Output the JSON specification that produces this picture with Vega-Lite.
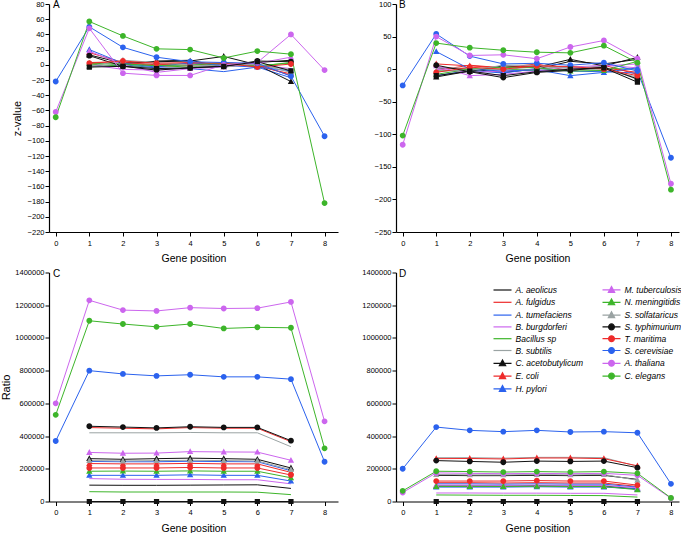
{
"$schema": "https://vega.github.io/schema/vega-lite/v6.json",
"padding": {"left": 0, "top": 0, "right": 0, "bottom": 0},
"datasets": {"d": [
{"s":"A. aeolicus","x":1,"A":-1,"B":2,"C":100000,"D":160000},
{"s":"A. aeolicus","x":2,"A":-1,"B":0,"C":99000,"D":158000},
{"s":"A. aeolicus","x":3,"A":5,"B":-5,"C":99000,"D":158000},
{"s":"A. aeolicus","x":4,"A":6,"B":0,"C":100000,"D":160000},
{"s":"A. aeolicus","x":5,"A":-3,"B":12,"C":101000,"D":158000},
{"s":"A. aeolicus","x":6,"A":3,"B":8,"C":102000,"D":160000},
{"s":"A. aeolicus","x":7,"A":6,"B":15,"C":80000,"D":135000},
{"s":"A. fulgidus","x":1,"A":3,"B":-2,"C":452000,"D":115000},
{"s":"A. fulgidus","x":2,"A":4,"B":6,"C":448000,"D":115000},
{"s":"A. fulgidus","x":3,"A":-2,"B":2,"C":444000,"D":113000},
{"s":"A. fulgidus","x":4,"A":-1,"B":8,"C":452000,"D":115000},
{"s":"A. fulgidus","x":5,"A":3,"B":-3,"C":448000,"D":113000},
{"s":"A. fulgidus","x":6,"A":0,"B":6,"C":448000,"D":113000},
{"s":"A. fulgidus","x":7,"A":-14,"B":-8,"C":366000,"D":92000},
{"s":"A. tumefaciens","x":1,"A":-2,"B":-10,"C":245000,"D":108000},
{"s":"A. tumefaciens","x":2,"A":0,"B":-2,"C":243000,"D":108000},
{"s":"A. tumefaciens","x":3,"A":-4,"B":-6,"C":243000,"D":106000},
{"s":"A. tumefaciens","x":4,"A":-5,"B":1,"C":246000,"D":108000},
{"s":"A. tumefaciens","x":5,"A":-9,"B":-3,"C":244000,"D":106000},
{"s":"A. tumefaciens","x":6,"A":-3,"B":-4,"C":243000,"D":106000},
{"s":"A. tumefaciens","x":7,"A":-17,"B":-6,"C":188000,"D":88000},
{"s":"B. burgdorferi","x":1,"A":0,"B":0,"C":140000,"D":52000},
{"s":"B. burgdorferi","x":2,"A":-6,"B":-5,"C":136000,"D":52000},
{"s":"B. burgdorferi","x":3,"A":-7,"B":-3,"C":135000,"D":51000},
{"s":"B. burgdorferi","x":4,"A":-4,"B":0,"C":135000,"D":51000},
{"s":"B. burgdorferi","x":5,"A":-1,"B":3,"C":133000,"D":50000},
{"s":"B. burgdorferi","x":6,"A":0,"B":6,"C":133000,"D":50000},
{"s":"B. burgdorferi","x":7,"A":-5,"B":2,"C":108000,"D":40000},
{"s":"Bacillus sp","x":1,"A":1,"B":-3,"C":60000,"D":40000},
{"s":"Bacillus sp","x":2,"A":-2,"B":-1,"C":58000,"D":39000},
{"s":"Bacillus sp","x":3,"A":-1,"B":0,"C":58000,"D":38000},
{"s":"Bacillus sp","x":4,"A":-3,"B":-2,"C":58000,"D":38000},
{"s":"Bacillus sp","x":5,"A":1,"B":-1,"C":58000,"D":37000},
{"s":"Bacillus sp","x":6,"A":-1,"B":1,"C":57000,"D":36000},
{"s":"Bacillus sp","x":7,"A":2,"B":0,"C":42000,"D":27000},
{"s":"B. subtilis","x":1,"A":-3,"B":3,"C":420000,"D":268000},
{"s":"B. subtilis","x":2,"A":2,"B":1,"C":420000,"D":268000},
{"s":"B. subtilis","x":3,"A":1,"B":-1,"C":420000,"D":265000},
{"s":"B. subtilis","x":4,"A":-2,"B":4,"C":422000,"D":270000},
{"s":"B. subtilis","x":5,"A":0,"B":1,"C":420000,"D":270000},
{"s":"B. subtilis","x":6,"A":-1,"B":-2,"C":420000,"D":268000},
{"s":"B. subtilis","x":7,"A":-6,"B":-12,"C":335000,"D":215000},
{"s":"C. acetobutylicum","x":1,"A":13,"B":-12,"C":262000,"D":95000},
{"s":"C. acetobutylicum","x":2,"A":2,"B":-3,"C":258000,"D":95000},
{"s":"C. acetobutylicum","x":3,"A":4,"B":5,"C":262000,"D":95000},
{"s":"C. acetobutylicum","x":4,"A":5,"B":3,"C":265000,"D":97000},
{"s":"C. acetobutylicum","x":5,"A":11,"B":15,"C":262000,"D":95000},
{"s":"C. acetobutylicum","x":6,"A":0,"B":5,"C":258000,"D":95000},
{"s":"C. acetobutylicum","x":7,"A":-22,"B":18,"C":205000,"D":76000},
{"s":"E. coli","x":1,"A":16,"B":8,"C":232000,"D":262000},
{"s":"E. coli","x":2,"A":3,"B":5,"C":230000,"D":263000},
{"s":"E. coli","x":3,"A":0,"B":2,"C":230000,"D":260000},
{"s":"E. coli","x":4,"A":2,"B":6,"C":233000,"D":266000},
{"s":"E. coli","x":5,"A":1,"B":3,"C":230000,"D":266000},
{"s":"E. coli","x":6,"A":-2,"B":2,"C":230000,"D":262000},
{"s":"E. coli","x":7,"A":-12,"B":-5,"C":178000,"D":218000},
{"s":"H. pylori","x":1,"A":20,"B":27,"C":160000,"D":88000},
{"s":"H. pylori","x":2,"A":2,"B":0,"C":160000,"D":88000},
{"s":"H. pylori","x":3,"A":-3,"B":-3,"C":160000,"D":88000},
{"s":"H. pylori","x":4,"A":3,"B":-1,"C":163000,"D":90000},
{"s":"H. pylori","x":5,"A":-1,"B":-10,"C":160000,"D":88000},
{"s":"H. pylori","x":6,"A":-3,"B":-5,"C":160000,"D":88000},
{"s":"H. pylori","x":7,"A":-8,"B":2,"C":125000,"D":78000},
{"s":"M. tuberculosis","x":1,"A":18,"B":5,"C":300000,"D":100000},
{"s":"M. tuberculosis","x":2,"A":0,"B":-10,"C":295000,"D":100000},
{"s":"M. tuberculosis","x":3,"A":-10,"B":-8,"C":296000,"D":98000},
{"s":"M. tuberculosis","x":4,"A":-5,"B":-3,"C":305000,"D":100000},
{"s":"M. tuberculosis","x":5,"A":-3,"B":0,"C":303000,"D":98000},
{"s":"M. tuberculosis","x":6,"A":2,"B":5,"C":302000,"D":98000},
{"s":"M. tuberculosis","x":7,"A":10,"B":8,"C":252000,"D":84000},
{"s":"N. meningitidis","x":1,"A":2,"B":-8,"C":185000,"D":92000},
{"s":"N. meningitidis","x":2,"A":1,"B":0,"C":186000,"D":92000},
{"s":"N. meningitidis","x":3,"A":-1,"B":3,"C":185000,"D":92000},
{"s":"N. meningitidis","x":4,"A":0,"B":2,"C":187000,"D":93000},
{"s":"N. meningitidis","x":5,"A":2,"B":-3,"C":185000,"D":92000},
{"s":"N. meningitidis","x":6,"A":-2,"B":-2,"C":185000,"D":92000},
{"s":"N. meningitidis","x":7,"A":3,"B":12,"C":145000,"D":72000},
{"s":"S. solfataricus","x":1,"A":-2,"B":-3,"C":250000,"D":165000},
{"s":"S. solfataricus","x":2,"A":6,"B":-2,"C":248000,"D":163000},
{"s":"S. solfataricus","x":3,"A":3,"B":6,"C":250000,"D":163000},
{"s":"S. solfataricus","x":4,"A":0,"B":6,"C":252000,"D":165000},
{"s":"S. solfataricus","x":5,"A":-3,"B":2,"C":250000,"D":163000},
{"s":"S. solfataricus","x":6,"A":1,"B":4,"C":248000,"D":165000},
{"s":"S. solfataricus","x":7,"A":-10,"B":-16,"C":195000,"D":130000},
{"s":"S. typhimurium","x":1,"A":12,"B":6,"C":460000,"D":250000},
{"s":"S. typhimurium","x":2,"A":-2,"B":-4,"C":455000,"D":245000},
{"s":"S. typhimurium","x":3,"A":-7,"B":-13,"C":450000,"D":240000},
{"s":"S. typhimurium","x":4,"A":-4,"B":-5,"C":457000,"D":247000},
{"s":"S. typhimurium","x":5,"A":-2,"B":-2,"C":453000,"D":245000},
{"s":"S. typhimurium","x":6,"A":5,"B":3,"C":453000,"D":247000},
{"s":"S. typhimurium","x":7,"A":4,"B":-15,"C":372000,"D":207000},
{"s":"T. maritima","x":1,"A":2,"B":-5,"C":205000,"D":125000},
{"s":"T. maritima","x":2,"A":5,"B":3,"C":205000,"D":125000},
{"s":"T. maritima","x":3,"A":2,"B":0,"C":205000,"D":125000},
{"s":"T. maritima","x":4,"A":3,"B":5,"C":208000,"D":128000},
{"s":"T. maritima","x":5,"A":2,"B":4,"C":205000,"D":125000},
{"s":"T. maritima","x":6,"A":-3,"B":0,"C":205000,"D":125000},
{"s":"T. maritima","x":7,"A":1,"B":-10,"C":162000,"D":100000},
{"s":"S. cerevisiae","x":0,"A":-22,"B":-25,"C":370000,"D":200000},
{"s":"S. cerevisiae","x":1,"A":50,"B":54,"C":800000,"D":455000},
{"s":"S. cerevisiae","x":2,"A":23,"B":20,"C":780000,"D":435000},
{"s":"S. cerevisiae","x":3,"A":10,"B":8,"C":768000,"D":427000},
{"s":"S. cerevisiae","x":4,"A":4,"B":9,"C":775000,"D":435000},
{"s":"S. cerevisiae","x":5,"A":3,"B":6,"C":762000,"D":425000},
{"s":"S. cerevisiae","x":6,"A":2,"B":10,"C":762000,"D":427000},
{"s":"S. cerevisiae","x":7,"A":-15,"B":-3,"C":748000,"D":420000},
{"s":"S. cerevisiae","x":8,"A":-94,"B":-136,"C":243000,"D":108000},
{"s":"A. thaliana","x":0,"A":-62,"B":-116,"C":600000,"D":55000},
{"s":"A. thaliana","x":1,"A":48,"B":50,"C":1230000,"D":175000},
{"s":"A. thaliana","x":2,"A":-11,"B":21,"C":1170000,"D":172000},
{"s":"A. thaliana","x":3,"A":-14,"B":22,"C":1165000,"D":170000},
{"s":"A. thaliana","x":4,"A":-14,"B":16,"C":1185000,"D":172000},
{"s":"A. thaliana","x":5,"A":0,"B":34,"C":1180000,"D":170000},
{"s":"A. thaliana","x":6,"A":3,"B":44,"C":1182000,"D":172000},
{"s":"A. thaliana","x":7,"A":40,"B":16,"C":1220000,"D":160000},
{"s":"A. thaliana","x":8,"A":-7,"B":-176,"C":490000,"D":20000},
{"s":"C. elegans","x":0,"A":-69,"B":-102,"C":530000,"D":65000},
{"s":"C. elegans","x":1,"A":57,"B":40,"C":1105000,"D":185000},
{"s":"C. elegans","x":2,"A":38,"B":33,"C":1085000,"D":183000},
{"s":"C. elegans","x":3,"A":21,"B":29,"C":1068000,"D":180000},
{"s":"C. elegans","x":4,"A":20,"B":26,"C":1085000,"D":183000},
{"s":"C. elegans","x":5,"A":9,"B":25,"C":1058000,"D":180000},
{"s":"C. elegans","x":6,"A":18,"B":36,"C":1065000,"D":183000},
{"s":"C. elegans","x":7,"A":14,"B":10,"C":1062000,"D":172000},
{"s":"C. elegans","x":8,"A":-182,"B":-185,"C":325000,"D":22000},
{"s":"other","x":1,"A":-3,"B":-10,"C":0,"D":0},
{"s":"other","x":2,"A":-2,"B":-3,"C":0,"D":0},
{"s":"other","x":3,"A":-5,"B":-10,"C":0,"D":0},
{"s":"other","x":4,"A":-4,"B":-4,"C":0,"D":0},
{"s":"other","x":5,"A":-2,"B":0,"C":0,"D":0},
{"s":"other","x":6,"A":4,"B":2,"C":0,"D":0},
{"s":"other","x":7,"A":-8,"B":-20,"C":0,"D":0}
]},
"data": {"name": "d"},
"columns": 2,
"spacing": {"row": 4.5, "column": 23},
"resolve": {"legend": {"color": "independent", "shape": "independent"}},
"concat": [
{
 "width": 289, "height": 228,
 "title": {"text": "A", "anchor": "start", "frame": "group", "baseline": "top", "offset": -10, "dx": 4},
 "layer": [
  {"mark": {"type": "line", "strokeWidth": 1},
   "encoding": {
    "x": {"field": "x", "type": "quantitative", "scale": {"domain": [-0.2, 8.4], "nice": false, "zero": false}, "axis": {"values": [0,1,2,3,4,5,6,7,8], "tickCount": 30, "format": "d", "labelOverlap": false, "title": "Gene position"}},
    "y": {"field": "A", "type": "quantitative", "scale": {"domain": [-220, 80], "nice": false, "zero": false}, "axis": {"values": [-220,-200,-180,-160,-140,-120,-100,-80,-60,-40,-20,0,20,40,60,80], "tickCount": 30, "format": "d", "labelOverlap": false, "title": "z-value"}},
    "color": {"field": "s", "type": "nominal", "legend": null, "scale": {"domain": ["A. aeolicus","A. fulgidus","A. tumefaciens","B. burgdorferi","Bacillus sp","B. subtilis","C. acetobutylicum","E. coli","H. pylori","M. tuberculosis","N. meningitidis","S. solfataricus","S. typhimurium","T. maritima","S. cerevisiae","A. thaliana","C. elegans","other"], "range": ["#111111","#ee2b2b","#2b62ee","#cc66ee","#3db52a","#9aa3a3","#111111","#ee2b2b","#2b62ee","#cc66ee","#3db52a","#9aa3a3","#111111","#ee2b2b","#2b62ee","#cc66ee","#3db52a","#111111"]}}
   }},
  {"transform": [{"filter": {"field": "s", "oneOf": ["C. acetobutylicum","E. coli","H. pylori","M. tuberculosis","N. meningitidis","S. solfataricus","S. typhimurium","T. maritima","S. cerevisiae","A. thaliana","C. elegans","other"]}}],
   "mark": {"type": "point", "filled": true, "size": 81, "opacity": 1, "strokeWidth": 0},
   "encoding": {
    "x": {"field": "x", "type": "quantitative"},
    "y": {"field": "A", "type": "quantitative"},
    "color": {"field": "s", "type": "nominal", "legend": null},
    "shape": {"field": "s", "type": "nominal", "legend": null, "scale": {"domain": ["A. aeolicus","A. fulgidus","A. tumefaciens","B. burgdorferi","Bacillus sp","B. subtilis","C. acetobutylicum","E. coli","H. pylori","M. tuberculosis","N. meningitidis","S. solfataricus","S. typhimurium","T. maritima","S. cerevisiae","A. thaliana","C. elegans","other"], "range": ["M-2,0H2","M-2,0H2","M-2,0H2","M-2,0H2","M-2,0H2","M-2,0H2","M-2,0H2M0,-0.75L0.7,0.55H-0.7Z","M-2,0H2M0,-0.75L0.7,0.55H-0.7Z","M-2,0H2M0,-0.75L0.7,0.55H-0.7Z","M-2,0H2M0,-0.75L0.7,0.55H-0.7Z","M-2,0H2M0,-0.75L0.7,0.55H-0.7Z","M-2,0H2M0,-0.75L0.7,0.55H-0.7Z","M-2,0H2M-0.65,0A0.65,0.65,0,1,0,0.65,0A0.65,0.65,0,1,0,-0.65,0Z","M-2,0H2M-0.65,0A0.65,0.65,0,1,0,0.65,0A0.65,0.65,0,1,0,-0.65,0Z","M-2,0H2M-0.65,0A0.65,0.65,0,1,0,0.65,0A0.65,0.65,0,1,0,-0.65,0Z","M-2,0H2M-0.65,0A0.65,0.65,0,1,0,0.65,0A0.65,0.65,0,1,0,-0.65,0Z","M-2,0H2M-0.65,0A0.65,0.65,0,1,0,0.65,0A0.65,0.65,0,1,0,-0.65,0Z","M-2,0H2M-0.58,-0.58H0.58V0.58H-0.58Z"]}}
   }}
 ]
},
{
 "width": 283, "height": 228,
 "title": {"text": "B", "anchor": "start", "frame": "group", "baseline": "top", "offset": -10, "dx": 3},
 "layer": [
  {"mark": {"type": "line", "strokeWidth": 1},
   "encoding": {
    "x": {"field": "x", "type": "quantitative", "scale": {"domain": [-0.2, 8.24], "nice": false, "zero": false}, "axis": {"values": [0,1,2,3,4,5,6,7,8], "tickCount": 30, "format": "d", "labelOverlap": false, "title": "Gene position"}},
    "y": {"field": "B", "type": "quantitative", "scale": {"domain": [-250, 100], "nice": false, "zero": false}, "axis": {"values": [-250,-200,-150,-100,-50,0,50,100], "tickCount": 30, "format": "d", "labelOverlap": false, "title": null}},
    "color": {"field": "s", "type": "nominal", "legend": null}
   }},
  {"transform": [{"filter": {"field": "s", "oneOf": ["C. acetobutylicum","E. coli","H. pylori","M. tuberculosis","N. meningitidis","S. solfataricus","S. typhimurium","T. maritima","S. cerevisiae","A. thaliana","C. elegans","other"]}}],
   "mark": {"type": "point", "filled": true, "size": 81, "opacity": 1, "strokeWidth": 0},
   "encoding": {
    "x": {"field": "x", "type": "quantitative"},
    "y": {"field": "B", "type": "quantitative"},
    "color": {"field": "s", "type": "nominal", "legend": null},
    "shape": {"field": "s", "type": "nominal", "legend": null}
   }}
 ]
},
{
 "width": 289, "height": 229,
 "title": {"text": "C", "anchor": "start", "frame": "group", "baseline": "top", "offset": -10, "dx": 4},
 "layer": [
  {"mark": {"type": "line", "strokeWidth": 1},
   "encoding": {
    "x": {"field": "x", "type": "quantitative", "scale": {"domain": [-0.2, 8.4], "nice": false, "zero": false}, "axis": {"values": [0,1,2,3,4,5,6,7,8], "tickCount": 30, "format": "d", "labelOverlap": false, "title": "Gene position"}},
    "y": {"field": "C", "type": "quantitative", "scale": {"domain": [0, 1400000], "nice": false}, "axis": {"values": [0,200000,400000,600000,800000,1000000,1200000,1400000], "tickCount": 30, "format": "d", "labelOverlap": false, "title": "Ratio", "titlePadding": 3}},
    "color": {"field": "s", "type": "nominal", "legend": null}
   }},
  {"transform": [{"filter": {"field": "s", "oneOf": ["C. acetobutylicum","E. coli","H. pylori","M. tuberculosis","N. meningitidis","S. solfataricus","S. typhimurium","T. maritima","S. cerevisiae","A. thaliana","C. elegans","other"]}}],
   "mark": {"type": "point", "filled": true, "size": 81, "opacity": 1, "strokeWidth": 0},
   "encoding": {
    "x": {"field": "x", "type": "quantitative"},
    "y": {"field": "C", "type": "quantitative"},
    "color": {"field": "s", "type": "nominal", "legend": null},
    "shape": {"field": "s", "type": "nominal", "legend": null}
   }}
 ]
},
{
 "width": 283, "height": 229,
 "title": {"text": "D", "anchor": "start", "frame": "group", "baseline": "top", "offset": -10, "dx": 3},
 "layer": [
  {"mark": {"type": "line", "strokeWidth": 1},
   "encoding": {
    "x": {"field": "x", "type": "quantitative", "scale": {"domain": [-0.2, 8.24], "nice": false, "zero": false}, "axis": {"values": [0,1,2,3,4,5,6,7,8], "tickCount": 30, "format": "d", "labelOverlap": false, "title": "Gene position"}},
    "y": {"field": "D", "type": "quantitative", "scale": {"domain": [0, 1400000], "nice": false}, "axis": {"values": [0,200000,400000,600000,800000,1000000,1200000,1400000], "tickCount": 30, "format": "d", "labelOverlap": false, "title": null}},
    "color": {"field": "s", "type": "nominal", "legend": {"title": null, "orient": "none", "legendX": 101, "legendY": 11.5, "direction": "vertical", "columns": 2, "columnPadding": 16, "rowPadding": 0.8, "labelLimit": 200, "values": ["A. aeolicus","A. fulgidus","A. tumefaciens","B. burgdorferi","Bacillus sp","B. subtilis","C. acetobutylicum","E. coli","H. pylori","M. tuberculosis","N. meningitidis","S. solfataricus","S. typhimurium","T. maritima","S. cerevisiae","A. thaliana","C. elegans"], "symbolSize": 81, "labelFontSize": 8.5, "labelFontStyle": "italic", "labelOffset": 7.5, "labelColor": "#000", "encode": {"symbols": {"update": {"stroke": {"scale": "color", "field": "value"}, "fill": {"scale": "color", "field": "value"}, "shape": {"scale": "shape", "field": "value"}, "size": {"value": 81}, "strokeWidth": {"value": 1.2}, "opacity": {"value": 1}}}}}}
   }},
  {"transform": [{"filter": {"field": "s", "oneOf": ["C. acetobutylicum","E. coli","H. pylori","M. tuberculosis","N. meningitidis","S. solfataricus","S. typhimurium","T. maritima","S. cerevisiae","A. thaliana","C. elegans","other"]}}],
   "mark": {"type": "point", "filled": true, "size": 81, "opacity": 1, "strokeWidth": 0},
   "encoding": {
    "x": {"field": "x", "type": "quantitative"},
    "y": {"field": "D", "type": "quantitative"},
    "color": {"field": "s", "type": "nominal", "legend": null},
    "shape": {"field": "s", "type": "nominal", "legend": null}
   }}
 ]
}
],
"config": {
 "font": "Liberation Sans",
 "view": {"stroke": null},
 "axis": {"domainColor": "#000", "domainWidth": 1.2, "tickColor": "#000", "tickSize": 4, "tickWidth": 1, "labelFontSize": 7.5, "labelColor": "#000", "labelPadding": 3, "labelOverlap": false, "labelFlush": false, "titleFontSize": 10.5, "titleFontWeight": "normal", "titleColor": "#000", "grid": false},
 "axisX": {"titlePadding": 7},
 "axisY": {"titlePadding": 5, "titleFontSize": 11, "labelPadding": 1},
 "title": {"fontSize": 10, "fontWeight": "normal", "color": "#000"}
}
}
